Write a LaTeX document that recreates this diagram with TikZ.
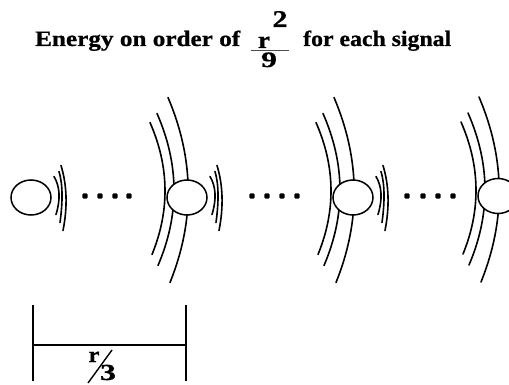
\documentclass[tikz,border=0pt]{standalone}
\usepackage{fontspec}
\usepackage{graphicx}
\setmainfont{Liberation Serif}
\usetikzlibrary{shapes.geometric}
\newfontfamily\ttlfont{Liberation Serif}[FakeBold=0.7]
\tikzset{
  wave/.style={line width=1.6pt, line cap=round},
  bub/.style={ellipse, draw, line width=1.5pt, fill=white, minimum width=40pt, minimum height=35pt, inner sep=0pt},
  dotmark/.style={rectangle, rounded corners=1.2pt, fill=black, inner sep=0pt, minimum size=5.4pt},
  bar/.style={line width=1.6pt},
  bigwaves/.pic={
    \draw[wave] (-37,-75) .. controls (-17.7,-31) and (-17,13) .. (-35,57);
    \draw[wave] (-30,-84) .. controls (-7.7,-33.3) and (-7.3,17.3) .. (-29,68);
    \draw[wave] (-19,-100) .. controls (7.3,-38.3) and (7.9,23.3) .. (-17,85);
  },
  smallwaves/.pic={
    \draw[wave] (23,-21) .. controls (29,-11) and (29.7,1.7) .. (25,17);
    \draw[wave] (28,-26) .. controls (31.7,-13.7) and (32,3.3) .. (29,25);
    \draw[wave] (30,-32) .. controls (36,-12.3) and (36.7,9.3) .. (32,33);
  },
  ttl/.style={font=\ttlfont\bfseries\fontsize{22}{26}\selectfont, inner sep=0pt},
  big/.style={font=\ttlfont\bfseries\fontsize{24}{28}\selectfont, inner sep=0pt}
}
\begin{document}
\begin{tikzpicture}[x=1pt,y=-1pt]
\useasboundingbox (0,0) rectangle (509,385);
\begin{scope}
\clip (0,0) rectangle (509,385);
% title
\node[ttl, anchor=base west] (t1) at (35,46) {\resizebox{205pt}{\height}{Energy on order of}};
\node[big, anchor=base] (fr) at (264,48) {\resizebox{12pt}{\height}{r}};
\node[big, anchor=base] (fs) at (280,27) {\resizebox{15pt}{\height}{2}};
\node[ttl, anchor=base] (fn) at (269,67) {\resizebox{16pt}{\height}{9}};
\coordinate (fl) at (251,50.5);
\coordinate (frr) at (289,50.5);
\draw[line width=0.9pt, black!70] (fl) -- (frr);
\node[ttl, anchor=base west] (t2) at (303,46) {\resizebox{148pt}{\height}{for each signal}};

% waves behind bubbles
\pic at (187,197.5) {bigwaves};
\pic at (353,197.5) {bigwaves};
\pic at (498,197) {bigwaves};
\pic at (31,197.5) {smallwaves};
\pic at (187,197.5) {smallwaves};
\pic at (353,197.5) {smallwaves};

% bubbles
\node[bub] (c1) at (31,197.5) {};
\node[bub] (c2) at (187,197.5) {};
\node[bub] (c3) at (353,197.5) {};
\node[bub] (c4) at (498,196) {};

% dots
\foreach \x [count=\i] in {85,100,115,129} \node[dotmark] (da\i) at (\x,196) {};
\foreach \x [count=\i] in {252,267,282,297} \node[dotmark] (db\i) at (\x,196) {};
\foreach \x [count=\i] in {407,423,438,453} \node[dotmark] (dc\i) at (\x,196) {};

% scale bar
\coordinate (l1) at (33,305);
\coordinate (l2) at (33,381);
\coordinate (r1) at (186,305);
\coordinate (r2) at (186,381);
\coordinate (ml) at (33,345);
\coordinate (mr) at (186,345);
\draw[bar] (l1) -- (l2);
\draw[bar] (r1) -- (r2);
\draw[line width=1.4pt] (ml) -- (mr);
\node[ttl, anchor=base] (br) at (94,362) {\resizebox{11pt}{\height}{r}};
\node[ttl, anchor=base, font=\ttlfont\bfseries\fontsize{23}{26}\selectfont] (b3) at (108,380) {\resizebox{16pt}{\height}{3}};
\coordinate (s1) at (112,350);
\coordinate (s2) at (88,383);
\draw[line width=1.4pt] (s1) -- (s2);
\end{scope}
\end{tikzpicture}
\end{document}
